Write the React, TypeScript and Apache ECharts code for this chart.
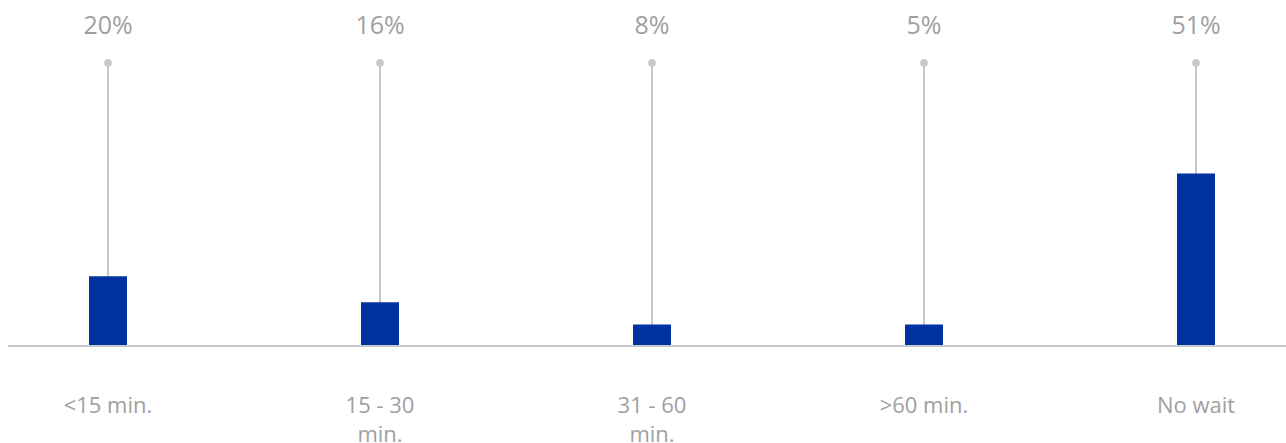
import React, { useEffect, useRef } from "react";
import * as echarts from "echarts";

const categories = ["<15 min.", "15 - 30\nmin.", "31 - 60\nmin.", ">60 min.", "No wait"];
const barValues = [20.5, 12.7, 6.1, 6.1, 51.1];
const percentLabels = ["20%", "16%", "8%", "5%", "51%"];
const stemTop = [84, 84, 84, 84, 84];

const FONT = "'Open Sans', sans-serif";
const TEXT_COLOR = "#a0a0a0";
const STEM_COLOR = "#c8c8cc";

export default function App() {
  const ref = useRef<HTMLDivElement>(null);

  useEffect(() => {
    if (!ref.current) return;
    const chart = echarts.init(ref.current, null, { renderer: "svg" });
    chart.setOption({
      animation: false,
      backgroundColor: "#ffffff",
      grid: {
        left: -28,
        width: 1360,
        top: 63,
        bottom: 98,
        containLabel: false,
        outerBoundsMode: "none",
      },
      xAxis: {
        type: "category",
        data: categories,
        axisLine: { show: false },
        axisTick: { show: false },
        axisLabel: {
          color: TEXT_COLOR,
          fontFamily: FONT,
          fontSize: 22,
          lineHeight: 29,
          margin: 44,
          interval: 0,
        },
      },
      yAxis: {
        type: "value",
        min: 0,
        max: 84,
        show: false,
        splitLine: { show: false },
      },
      graphic: [
        {
          type: "line",
          shape: { x1: 8, y1: 346, x2: 1286, y2: 346 },
          style: { stroke: STEM_COLOR, lineWidth: 2 },
          z: 10,
        },
      ],
      series: [
        {
          type: "custom",
          z: 1,
          data: stemTop.map((v, i) => [i, v]),
          renderItem: (params: any, api: any) => {
            const idx = params.dataIndex;
            const top = api.coord([api.value(0), api.value(1)]);
            const base = api.coord([api.value(0), 0]);
            return {
              type: "group",
              children: [
                {
                  type: "line",
                  shape: { x1: top[0], y1: top[1], x2: base[0], y2: base[1] },
                  style: { stroke: STEM_COLOR, lineWidth: 2 },
                },
                {
                  type: "circle",
                  shape: { cx: top[0], cy: top[1], r: 4 },
                  style: { fill: STEM_COLOR },
                },
                {
                  type: "text",
                  x: top[0],
                  y: top[1] - 39,
                  style: {
                    text: percentLabels[idx],
                    fill: TEXT_COLOR,
                    font: `25px ${FONT}`,
                    align: "center",
                    verticalAlign: "middle",
                  },
                },
              ],
            };
          },
        },
        {
          type: "bar",
          z: 2,
          data: barValues,
          barWidth: 38,
          itemStyle: { color: "#00339f" },
        },
      ],
    });
    return () => chart.dispose();
  }, []);

  return (
    <div
      ref={ref}
      style={{ position: "fixed", left: 0, top: 0, width: 1286, height: 443 }}
    />
  );
}
